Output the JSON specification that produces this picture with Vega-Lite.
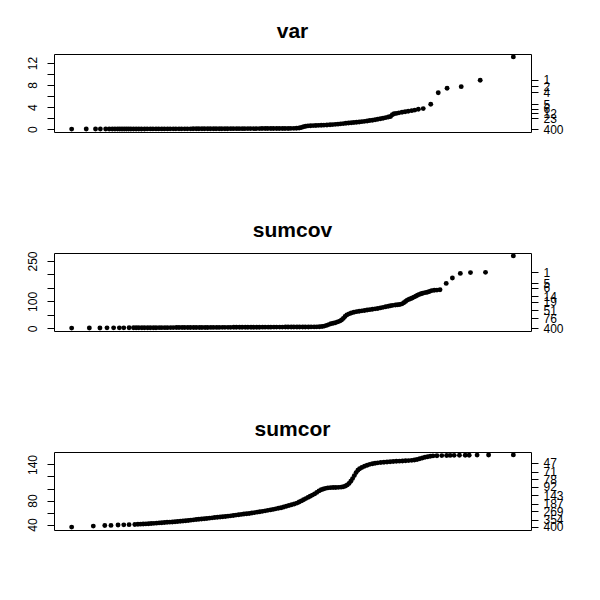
{
  "$schema": "https://vega.github.io/schema/vega-lite/v6.json",
  "background": "white",
  "padding": {"left": 25, "top": 20, "right": 10, "bottom": 10},
  "config": {
    "view": {"stroke": "black", "strokeWidth": 1},
    "axis": {"labelFont": "Liberation Sans", "labelFontSize": 12, "labelColor": "black", "tickColor": "black", "tickWidth": 1, "tickSize": 7, "domain": false, "grid": false, "title": null, "labelOverlap": false, "labelFlush": false},
    "title": {"font": "Liberation Sans", "fontSize": 21, "fontWeight": "bold", "color": "black", "frame": "group", "anchor": "middle", "baseline": "alphabetic", "offset": 12}
  },
  "spacing": 83,
  "datasets": {
    "var": [
      {"x":0,"y":0.0},{"x":0.033,"y":0.01},{"x":0.054,"y":0.01},{"x":0.065,"y":0.01},{"x":0.077,"y":0.02},{"x":0.085,"y":0.02},{"x":0.092,"y":0.02},{"x":0.098,"y":0.02},{"x":0.104,"y":0.02},{"x":0.109,"y":0.02},{"x":0.114,"y":0.03},{"x":0.119,"y":0.03},{"x":0.124,"y":0.03},{"x":0.129,"y":0.03},
      {"x":0.134,"y":0.03},{"x":0.140,"y":0.03},{"x":0.146,"y":0.03},{"x":0.152,"y":0.03},{"x":0.158,"y":0.03},{"x":0.165,"y":0.03},{"x":0.171,"y":0.04},{"x":0.178,"y":0.04},{"x":0.184,"y":0.04},{"x":0.191,"y":0.04},{"x":0.197,"y":0.04},{"x":0.204,"y":0.04},{"x":0.210,"y":0.04},{"x":0.217,"y":0.04},{"x":0.223,"y":0.05},{"x":0.230,"y":0.05},{"x":0.236,"y":0.05},{"x":0.243,"y":0.05},{"x":0.249,"y":0.05},{"x":0.256,"y":0.05},{"x":0.262,"y":0.05},{"x":0.269,"y":0.05},{"x":0.275,"y":0.06},{"x":0.282,"y":0.06},{"x":0.288,"y":0.06},{"x":0.295,"y":0.06},{"x":0.301,"y":0.06},{"x":0.308,"y":0.06},{"x":0.314,"y":0.06},{"x":0.321,"y":0.07},{"x":0.327,"y":0.07},{"x":0.334,"y":0.07},{"x":0.340,"y":0.07},{"x":0.347,"y":0.07},{"x":0.353,"y":0.07},{"x":0.360,"y":0.08},{"x":0.366,"y":0.08},{"x":0.373,"y":0.08},{"x":0.379,"y":0.08},{"x":0.386,"y":0.08},{"x":0.392,"y":0.08},{"x":0.399,"y":0.09},{"x":0.405,"y":0.09},{"x":0.412,"y":0.09},{"x":0.418,"y":0.09},{"x":0.425,"y":0.09},{"x":0.431,"y":0.1},{"x":0.438,"y":0.1},{"x":0.444,"y":0.1},{"x":0.451,"y":0.1},{"x":0.457,"y":0.1},{"x":0.464,"y":0.11},{"x":0.470,"y":0.11},{"x":0.477,"y":0.11},{"x":0.483,"y":0.12},{"x":0.490,"y":0.12},{"x":0.496,"y":0.13},{"x":0.503,"y":0.14},{"x":0.509,"y":0.16},{"x":0.515,"y":0.2},
      {"x":0.520,"y":0.3},{"x":0.525,"y":0.42},{"x":0.530,"y":0.52},{"x":0.535,"y":0.58},{"x":0.541,"y":0.62},{"x":0.547,"y":0.64},{"x":0.553,"y":0.66},{"x":0.559,"y":0.68},{"x":0.565,"y":0.7},{"x":0.571,"y":0.72},{"x":0.578,"y":0.75},{"x":0.585,"y":0.78},{"x":0.591,"y":0.82},{"x":0.597,"y":0.86},{"x":0.603,"y":0.9},{"x":0.609,"y":0.95},{"x":0.615,"y":1.0},{"x":0.621,"y":1.06},{"x":0.627,"y":1.1},{"x":0.633,"y":1.15},{"x":0.639,"y":1.2},{"x":0.645,"y":1.25},{"x":0.651,"y":1.3},{"x":0.657,"y":1.35},{"x":0.663,"y":1.41},{"x":0.669,"y":1.48},{"x":0.675,"y":1.55},{"x":0.681,"y":1.62},{"x":0.687,"y":1.7},{"x":0.693,"y":1.78},{"x":0.699,"y":1.87},{"x":0.705,"y":1.97},{"x":0.711,"y":2.08},{"x":0.717,"y":2.2},{"x":0.722,"y":2.3},{"x":0.726,"y":2.6},{"x":0.730,"y":2.78},{"x":0.735,"y":2.85},{"x":0.741,"y":2.95},{"x":0.748,"y":3.05},{"x":0.755,"y":3.15},{"x":0.762,"y":3.25},{"x":0.770,"y":3.35},{"x":0.777,"y":3.45},{"x":0.785,"y":3.6},{"x":0.796,"y":3.72},{"x":0.813,"y":4.5},{"x":0.830,"y":6.6},{"x":0.850,"y":7.4},{"x":0.882,"y":7.7},{"x":0.925,"y":8.86},{"x":1.0,"y":13.1}
    ],
    "sumcov": [
      {"x":0,"y":1},{"x":0.040,"y":1.5},{"x":0.064,"y":1.5},{"x":0.080,"y":2},{"x":0.095,"y":2},{"x":0.108,"y":2},{"x":0.118,"y":2},{"x":0.130,"y":2.2},{"x":0.140,"y":2.2},
      {"x":0.146,"y":2.3},{"x":0.152,"y":2.3},{"x":0.159,"y":2.4},{"x":0.165,"y":2.4},{"x":0.172,"y":2.5},{"x":0.178,"y":2.5},{"x":0.185,"y":2.6},{"x":0.191,"y":2.6},{"x":0.198,"y":2.7},{"x":0.204,"y":2.7},{"x":0.211,"y":2.8},{"x":0.217,"y":2.8},{"x":0.224,"y":2.9},{"x":0.230,"y":2.9},{"x":0.237,"y":3.0},{"x":0.243,"y":3.0},{"x":0.250,"y":3.1},{"x":0.256,"y":3.1},{"x":0.263,"y":3.2},{"x":0.269,"y":3.2},{"x":0.276,"y":3.3},{"x":0.282,"y":3.3},{"x":0.289,"y":3.4},{"x":0.295,"y":3.4},{"x":0.302,"y":3.5},{"x":0.308,"y":3.5},{"x":0.315,"y":3.6},{"x":0.321,"y":3.6},{"x":0.328,"y":3.7},{"x":0.334,"y":3.7},{"x":0.341,"y":3.8},{"x":0.347,"y":3.8},{"x":0.354,"y":3.9},{"x":0.360,"y":3.9},{"x":0.367,"y":4.0},{"x":0.373,"y":4.0},{"x":0.380,"y":4.1},{"x":0.386,"y":4.1},{"x":0.393,"y":4.2},{"x":0.399,"y":4.2},{"x":0.406,"y":4.3},{"x":0.412,"y":4.3},{"x":0.419,"y":4.4},{"x":0.425,"y":4.4},{"x":0.432,"y":4.5},{"x":0.438,"y":4.5},{"x":0.445,"y":4.6},{"x":0.451,"y":4.6},{"x":0.458,"y":4.7},{"x":0.464,"y":4.7},{"x":0.471,"y":4.8},{"x":0.477,"y":4.8},{"x":0.484,"y":4.9},{"x":0.490,"y":4.9},{"x":0.497,"y":5.0},{"x":0.503,"y":5.0},{"x":0.510,"y":5.1},{"x":0.516,"y":5.1},{"x":0.523,"y":5.2},{"x":0.529,"y":5.2},{"x":0.536,"y":5.3},{"x":0.542,"y":5.4},{"x":0.549,"y":5.5},{"x":0.555,"y":5.7},{"x":0.561,"y":6.2},{"x":0.567,"y":7.0},
      {"x":0.572,"y":8.5},{"x":0.577,"y":11},{"x":0.582,"y":14},{"x":0.587,"y":17},{"x":0.592,"y":19},{"x":0.597,"y":21},{"x":0.602,"y":24},{"x":0.607,"y":27},{"x":0.611,"y":31},{"x":0.615,"y":37},{"x":0.619,"y":44},{"x":0.623,"y":50},{"x":0.628,"y":54},{"x":0.633,"y":57},{"x":0.639,"y":60},{"x":0.645,"y":62},{"x":0.651,"y":63.5},{"x":0.657,"y":65},{"x":0.663,"y":66.5},{"x":0.669,"y":68},{"x":0.675,"y":69.5},{"x":0.681,"y":71},{"x":0.687,"y":72.5},{"x":0.693,"y":74},{"x":0.699,"y":76},{"x":0.705,"y":78},{"x":0.711,"y":80},{"x":0.717,"y":82},{"x":0.722,"y":84},{"x":0.727,"y":85.5},{"x":0.733,"y":86.5},{"x":0.738,"y":87.5},{"x":0.743,"y":88.5},{"x":0.748,"y":91},{"x":0.752,"y":95},{"x":0.756,"y":100},{"x":0.759,"y":104},{"x":0.763,"y":107},{"x":0.767,"y":110},{"x":0.771,"y":113},{"x":0.775,"y":116},{"x":0.779,"y":119.5},{"x":0.783,"y":123},{"x":0.787,"y":126},{"x":0.791,"y":128.5},{"x":0.795,"y":130.5},{"x":0.800,"y":132.5},{"x":0.805,"y":134},{"x":0.810,"y":137},{"x":0.815,"y":140},{"x":0.821,"y":141.5},{"x":0.827,"y":142},{"x":0.834,"y":143.5},{"x":0.848,"y":167},{"x":0.862,"y":187},{"x":0.880,"y":204},{"x":0.903,"y":207},{"x":0.937,"y":208},{"x":1.0,"y":269}
    ],
    "sumcor": [
      {"x":0,"y":35.7},{"x":0.049,"y":37.4},{"x":0.075,"y":38.4},{"x":0.089,"y":38.6},{"x":0.105,"y":39.3},{"x":0.118,"y":39.5},{"x":0.130,"y":39.8},{"x":0.143,"y":40.1},
      {"x":0.150,"y":40.4},{"x":0.156,"y":40.6},{"x":0.162,"y":40.9},{"x":0.168,"y":41.1},{"x":0.174,"y":41.4},{"x":0.180,"y":41.7},{"x":0.186,"y":42.0},{"x":0.192,"y":42.3},{"x":0.198,"y":42.7},{"x":0.204,"y":43.0},{"x":0.210,"y":43.4},{"x":0.216,"y":43.7},{"x":0.222,"y":44.0},{"x":0.228,"y":44.3},{"x":0.234,"y":44.6},{"x":0.240,"y":45.0},{"x":0.246,"y":45.4},{"x":0.252,"y":45.8},{"x":0.258,"y":46.3},{"x":0.264,"y":46.8},{"x":0.270,"y":47.3},{"x":0.276,"y":47.8},{"x":0.282,"y":48.3},{"x":0.288,"y":48.7},{"x":0.294,"y":49.1},{"x":0.300,"y":49.6},{"x":0.306,"y":50.1},{"x":0.312,"y":50.6},{"x":0.318,"y":51.1},{"x":0.324,"y":51.6},{"x":0.330,"y":52.1},{"x":0.336,"y":52.6},{"x":0.342,"y":53.0},{"x":0.348,"y":53.5},{"x":0.354,"y":54.0},{"x":0.360,"y":54.5},{"x":0.366,"y":55.1},{"x":0.372,"y":55.7},{"x":0.378,"y":56.3},{"x":0.384,"y":56.9},{"x":0.390,"y":57.5},{"x":0.396,"y":58.0},{"x":0.402,"y":58.5},{"x":0.408,"y":59.2},{"x":0.414,"y":59.9},{"x":0.420,"y":60.6},{"x":0.426,"y":61.3},{"x":0.432,"y":62.0},{"x":0.438,"y":62.8},{"x":0.444,"y":63.6},{"x":0.450,"y":64.4},{"x":0.456,"y":65.2},{"x":0.462,"y":66.1},{"x":0.468,"y":67.0},{"x":0.474,"y":68.0},{"x":0.480,"y":69.2},{"x":0.486,"y":70.5},{"x":0.492,"y":71.8},{"x":0.498,"y":73.0},{"x":0.504,"y":74.3},{"x":0.510,"y":75.7},{"x":0.515,"y":77.5},{"x":0.520,"y":79.4},{"x":0.525,"y":81.3},{"x":0.530,"y":83.2},{"x":0.535,"y":85.2},{"x":0.540,"y":87.2},{"x":0.545,"y":89.0},{"x":0.550,"y":91.0},{"x":0.555,"y":93.5},{"x":0.560,"y":96.0},{"x":0.565,"y":98.0},{"x":0.570,"y":99.3},{"x":0.575,"y":100.3},{"x":0.580,"y":101.0},{"x":0.586,"y":101.4},{"x":0.592,"y":101.6},{"x":0.598,"y":101.7},{"x":0.604,"y":101.9},{"x":0.610,"y":102.3},{"x":0.615,"y":103.0},{"x":0.620,"y":104.2},{"x":0.624,"y":106.0},{"x":0.628,"y":108.5},{"x":0.632,"y":112.0},{"x":0.636,"y":116.5},{"x":0.640,"y":121.5},{"x":0.644,"y":126.5},{"x":0.648,"y":130.5},{"x":0.652,"y":133.0},{"x":0.657,"y":135.0},{"x":0.663,"y":137.0},{"x":0.669,"y":138.8},{"x":0.675,"y":140.2},{"x":0.681,"y":141.2},{"x":0.687,"y":142.0},{"x":0.693,"y":142.7},{"x":0.700,"y":143.3},{"x":0.707,"y":143.8},{"x":0.714,"y":144.2},{"x":0.721,"y":144.6},{"x":0.728,"y":145.0},{"x":0.735,"y":145.3},{"x":0.742,"y":145.6},{"x":0.749,"y":145.9},{"x":0.756,"y":146.2},{"x":0.763,"y":146.5},{"x":0.770,"y":146.9},{"x":0.776,"y":147.4},{"x":0.782,"y":148.3},{"x":0.788,"y":149.5},{"x":0.794,"y":150.8},{"x":0.800,"y":152.0},{"x":0.806,"y":153.0},{"x":0.812,"y":153.8},{"x":0.818,"y":154.3},{"x":0.827,"y":154.6},{"x":0.838,"y":154.8},{"x":0.849,"y":155.0},{"x":0.857,"y":155.1},{"x":0.866,"y":155.2},{"x":0.878,"y":155.3},{"x":0.891,"y":155.4},{"x":0.900,"y":155.5},{"x":0.918,"y":155.6},{"x":0.944,"y":155.8},{"x":1.0,"y":156.0}
    ]
  },
  "vconcat": [
    {
      "title": "var",
      "width": 477, "height": 78,
      "data": {"name": "var"},
      "layer": [
        {"mark": {"type": "point", "filled": true, "size": 24, "color": "black", "opacity": 1},
         "encoding": {
           "x": {"field": "x", "type": "quantitative", "scale": {"domain": [-0.04, 1.04], "nice": false, "zero": false}, "axis": null},
           "y": {"field": "y", "type": "quantitative", "scale": {"domain": [-0.524, 13.624], "nice": false, "zero": false},
                 "axis": {"orient": "left", "values": [0, 2, 4, 6, 8, 10, 12], "labelExpr": "datum.value % 4 == 0 ? datum.label : ''", "labelAngle": -90, "labelPadding": 8}}
         }},
        {"mark": {"type": "point", "opacity": 0},
         "encoding": {
           "x": {"field": "x", "type": "quantitative", "scale": {"domain": [-0.04, 1.04], "nice": false, "zero": false}, "axis": null},
           "y": {"field": "y", "type": "quantitative", "scale": {"domain": [-0.524, 13.624], "nice": false, "zero": false},
                 "axis": {"orient": "right", "values": [0, 1.95, 2.85, 3.7, 4.55, 6.65, 7.75, 8.95], "labelExpr": "datum.value < 1 ? '400' : datum.value < 2.4 ? '23' : datum.value < 3.3 ? '12' : datum.value < 4.1 ? '6' : datum.value < 5.5 ? '5' : datum.value < 7.2 ? '4' : datum.value < 8.4 ? '2' : '1'", "labelAngle": 0, "labelAlign": "left", "labelBaseline": "middle", "labelPadding": 5}}
         }}
      ],
      "resolve": {"scale": {"y": "independent"}, "axis": {"y": "independent"}}
    },
    {
      "title": {"text": "sumcov", "offset": 10},
      "width": 477, "height": 78,
      "data": {"name": "sumcov"},
      "layer": [
        {"mark": {"type": "point", "filled": true, "size": 24, "color": "black", "opacity": 1},
         "encoding": {
           "x": {"field": "x", "type": "quantitative", "scale": {"domain": [-0.04, 1.04], "nice": false, "zero": false}, "axis": null},
           "y": {"field": "y", "type": "quantitative", "scale": {"domain": [-9.72, 279.72], "nice": false, "zero": false},
                 "axis": {"orient": "left", "values": [0, 50, 100, 150, 200, 250], "labelExpr": "datum.value == 0 || datum.value == 100 || datum.value == 250 ? datum.label : ''", "labelAngle": -90, "labelPadding": 8}}
         }},
        {"mark": {"type": "point", "opacity": 0},
         "encoding": {
           "x": {"field": "x", "type": "quantitative", "scale": {"domain": [-0.04, 1.04], "nice": false, "zero": false}, "axis": null},
           "y": {"field": "y", "type": "quantitative", "scale": {"domain": [-9.72, 279.72], "nice": false, "zero": false},
                 "axis": {"orient": "right", "values": [1, 37, 68, 98, 120, 150, 168, 209], "labelExpr": "datum.value < 20 ? '400' : datum.value < 50 ? '76' : datum.value < 80 ? '51' : datum.value < 110 ? '19' : datum.value < 135 ? '14' : datum.value < 160 ? '6' : datum.value < 190 ? '5' : '1'", "labelAngle": 0, "labelAlign": "left", "labelBaseline": "middle", "labelPadding": 5}}
         }}
      ],
      "resolve": {"scale": {"y": "independent"}, "axis": {"y": "independent"}}
    },
    {
      "title": "sumcor",
      "width": 477, "height": 78,
      "data": {"name": "sumcor"},
      "layer": [
        {"mark": {"type": "point", "filled": true, "size": 24, "color": "black", "opacity": 1},
         "encoding": {
           "x": {"field": "x", "type": "quantitative", "scale": {"domain": [-0.04, 1.04], "nice": false, "zero": false}, "axis": null},
           "y": {"field": "y", "type": "quantitative", "scale": {"domain": [30.9, 160.8], "nice": false, "zero": false},
                 "axis": {"orient": "left", "values": [40, 60, 80, 100, 120, 140], "labelExpr": "datum.value == 40 || datum.value == 80 || datum.value == 140 ? datum.label : ''", "labelAngle": -90, "labelPadding": 8}}
         }},
        {"mark": {"type": "point", "opacity": 0},
         "encoding": {
           "x": {"field": "x", "type": "quantitative", "scale": {"domain": [-0.04, 1.04], "nice": false, "zero": false}, "axis": null},
           "y": {"field": "y", "type": "quantitative", "scale": {"domain": [30.9, 160.8], "nice": false, "zero": false},
                 "axis": {"orient": "right", "values": [36, 48.2, 62, 74.6, 88.4, 102.6, 115.8, 128, 142.8], "labelExpr": "datum.value < 42 ? '400' : datum.value < 55 ? '354' : datum.value < 68 ? '269' : datum.value < 81 ? '187' : datum.value < 95 ? '143' : datum.value < 109 ? '92' : datum.value < 122 ? '78' : datum.value < 135 ? '71' : '47'", "labelAngle": 0, "labelAlign": "left", "labelBaseline": "middle", "labelPadding": 5}}
         }}
      ],
      "resolve": {"scale": {"y": "independent"}, "axis": {"y": "independent"}}
    }
  ]
}
